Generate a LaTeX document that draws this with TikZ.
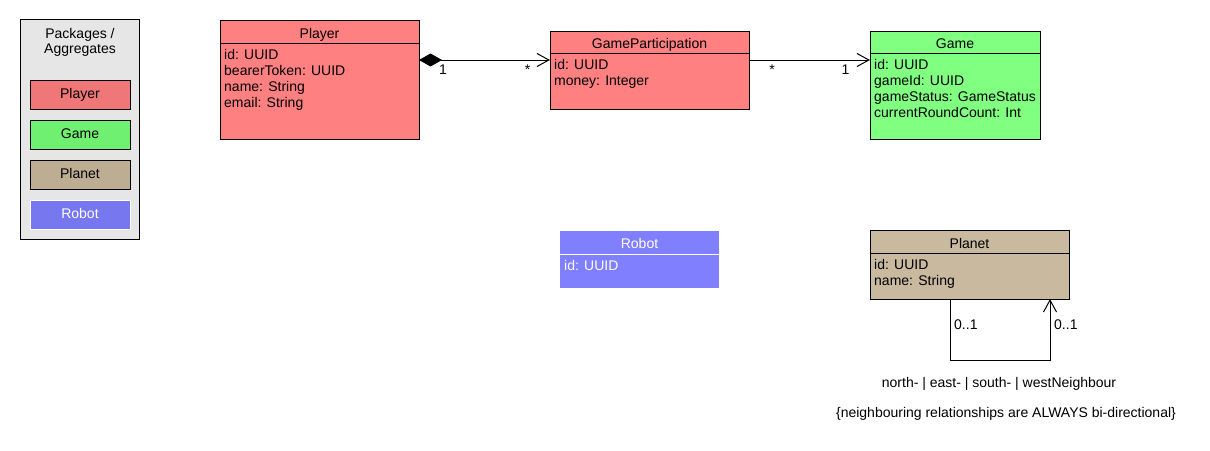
\documentclass[tikz,border=0pt]{standalone}
\usepackage{fontspec}
\setmainfont{Liberation Sans}
\usetikzlibrary{arrows.meta,calc}
\definecolor{legendbg}{HTML}{E6E6E6}
\definecolor{legplayer}{HTML}{F07777}
\definecolor{leggame}{HTML}{70F070}
\definecolor{legplanet}{HTML}{BDAE93}
\definecolor{legrobot}{HTML}{7777F0}
\definecolor{playerfill}{HTML}{FF8080}
\definecolor{gamefill}{HTML}{80FF80}
\definecolor{planetfill}{HTML}{C8B99F}
\definecolor{robotfill}{HTML}{8080FF}
\begin{document}
\begin{tikzpicture}[x=1pt,y=-1pt,font=\fontsize{14}{16}\selectfont,
  box/.style={draw=black,line width=1pt,anchor=north west,inner sep=0pt,outer sep=0pt},
  txt/.style={anchor=base,inner sep=0pt},
  attr/.style={anchor=base west,inner sep=0pt},
  sep/.style={line width=1pt},
  assoc/.style={line width=1pt,line join=miter,-{Straight Barb[length=12pt,width=13pt,line width=1pt]}},
  comp/.style={line width=1pt,line join=miter,{Diamond[length=23pt,width=13pt]}-{Straight Barb[length=12pt,width=13pt,line width=1pt]}}]
\fill[white] (0,0) rectangle (1210,450);
\useasboundingbox (0,0) rectangle (1210,450);

% legend of packages
\node[box,fill=legendbg,minimum width=119pt,minimum height=220pt] (legend) at (20,19) {};
\node[txt] (legend-t1) at (80,38) {Packages /};
\node[txt] (legend-t2) at (80,53) {Aggregates};
\node[box,fill=legplayer,minimum width=100pt,minimum height=29pt] (leg-player) at (30,80) {};
\node[txt] at ($(leg-player.center)+(0,4)$) {Player};
\node[box,fill=leggame,minimum width=100pt,minimum height=29pt] (leg-game) at (30,120) {};
\node[txt] at ($(leg-game.center)+(0,4)$) {Game};
\node[box,fill=legplanet,minimum width=100pt,minimum height=29pt] (leg-planet) at (30,160) {};
\node[txt] at ($(leg-planet.center)+(0,4)$) {Planet};
\node[box,draw=white,fill=legrobot,minimum width=100pt,minimum height=29pt] (leg-robot) at (30,200) {};
\node[txt,text=white] at ($(leg-robot.center)+(0,4)$) {Robot};

% Player
\node[box,fill=playerfill,minimum width=199pt,minimum height=119pt] (player) at (220,20) {};
\draw[sep] ($(player.north west)+(0,23)$) -- ($(player.north east)+(0,23)$);
\node[txt] (player-title) at ($(player.north)+(0,18)$) {Player};
\foreach \t [count=\i] in {id: UUID,bearerToken: UUID,name: String,email: String}
  \node[attr] (player-a\i) at ($(player.north west)+(4,23+16*\i)$) {\t};

% GameParticipation
\node[box,fill=playerfill,minimum width=199pt,minimum height=78pt] (gp) at (550,31) {};
\draw[sep] ($(gp.north west)+(0,22)$) -- ($(gp.north east)+(0,22)$);
\node[txt] (gp-title) at ($(gp.north)+(0,17)$) {GameParticipation};
\foreach \t [count=\i] in {id: UUID,money: Integer}
  \node[attr] (gp-a\i) at ($(gp.north west)+(4,22+16*\i)$) {\t};

% Game
\node[box,fill=gamefill,minimum width=170pt,minimum height=108pt] (game) at (870,31) {};
\draw[sep] ($(game.north west)+(0,22)$) -- ($(game.north east)+(0,22)$);
\node[txt] (game-title) at ($(game.north)+(0,17)$) {Game};
\foreach \t [count=\i] in {id: UUID,gameId: UUID,gameStatus: GameStatus,currentRoundCount: Int}
  \node[attr] (game-a\i) at ($(game.north west)+(4,22+16*\i)$) {\t};

% Robot
\node[box,draw=none,fill=robotfill,minimum width=159pt,minimum height=57pt] (robot) at (560,231) {};
\draw[sep,white] ($(robot.north west)+(0,23)$) -- ($(robot.north east)+(0,23)$);
\node[txt,text=white] (robot-title) at ($(robot.north)+(0,17)$) {Robot};
\node[attr,text=white] (robot-a1) at ($(robot.north west)+(4,39)$) {id: UUID};

% Planet
\node[box,fill=planetfill,minimum width=199pt,minimum height=69pt] (planet) at (870,230) {};
\draw[sep] ($(planet.north west)+(0,23)$) -- ($(planet.north east)+(0,23)$);
\node[txt] (planet-title) at ($(planet.north)+(0,18)$) {Planet};
\foreach \t [count=\i] in {id: UUID,name: String}
  \node[attr] (planet-a\i) at ($(planet.north west)+(4,23+16*\i)$) {\t};

% associations
\draw[comp] ($(player.north east)+(0,40)$) -- ($(gp.north west)+(0,29)$);
\node[txt] (m1) at (443,74) {1};
\node[txt] (m2) at (527.5,74) {*};
\draw[assoc] ($(gp.north east)+(0,29)$) -- ($(game.north west)+(0,29)$);
\node[txt] (m3) at (772,74) {*};
\node[txt] (m4) at (845.5,74) {1};

% neighbour self-association
\draw[assoc] ($(planet.south west)+(80,0)$) |- (1050,360) -- ($(planet.south west)+(180,0)$);
\node[attr] (n1) at (954,329) {0..1};
\node[attr] (n2) at (1054,329) {0..1};
\node[txt] (nlabel) at (999,387) {north- | east- | south- | westNeighbour};
\node[txt] (nnote) at (1006,417) {\{neighbouring relationships are ALWAYS bi-directional\}};
\end{tikzpicture}
\end{document}
